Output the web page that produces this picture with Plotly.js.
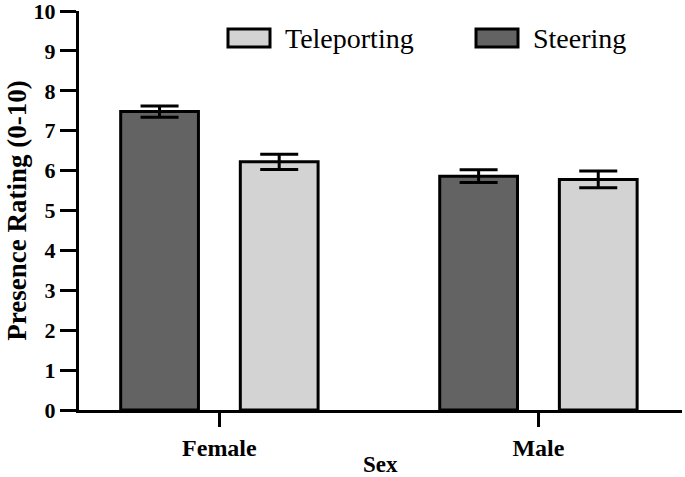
<!DOCTYPE html>
<html>
<head>
<meta charset="utf-8">
<script src="https://cdn.plot.ly/plotly-3.0.1.min.js"></script>
<style>html,body{margin:0;padding:0;background:#fff;}#chart{width:685px;height:477px;}</style>
</head>
<body>
<div id="chart"></div>
<script>
const categories = ["Female", "Male"];
const seriesNames = ["Steering", "Teleporting"];
const steering = [7.48, 5.86];
const steeringErr = [0.14, 0.16];
const teleporting = [6.22, 5.78];
const teleportingErr = [0.19, 0.21];
const yTicks = [0,1,2,3,4,5,6,7,8,9,10];
const yTitle = "Presence Rating (0-10)";
const xTitle = "Sex";

const serif = "Liberation Serif, Times New Roman, serif";
const colors = ["#636363", "#d3d3d3"];

const traces = [
  {type: "bar", name: seriesNames[0], x: categories, y: steering,
   marker: {color: colors[0], line: {color: "#000", width: 3}},
   error_y: {type: "data", array: steeringErr, visible: true, color: "#000", thickness: 3, width: 19},
   showlegend: false},
  {type: "bar", name: seriesNames[1], x: categories, y: teleporting,
   marker: {color: colors[1], line: {color: "#000", width: 3}},
   error_y: {type: "data", array: teleportingErr, visible: true, color: "#000", thickness: 3, width: 19},
   showlegend: false}
];

// custom legend (Teleporting first, then Steering)
const legendOrder = [1, 0];
const legendX = [228, 476];
const shapes = [];
const annotations = [];
const toPaperX = p => (p - 79) / 603;
const toPaperY = p => (410 - p) / 399;
legendOrder.forEach((idx, i) => {
  shapes.push({type: "rect", xref: "paper", yref: "paper",
    x0: toPaperX(legendX[i]), x1: toPaperX(legendX[i] + 42),
    y0: toPaperY(47), y1: toPaperY(29),
    fillcolor: colors[idx], line: {color: "#000", width: 3}});
  annotations.push({xref: "paper", yref: "paper",
    x: toPaperX(legendX[i] + 55), y: toPaperY(38),
    xanchor: "left", yanchor: "middle", showarrow: false,
    text: seriesNames[idx], font: {family: serif, size: 28, color: "#000"}});
});
annotations.push({xref: "paper", yref: "paper", x: 0.5, y: toPaperY(464),
  xanchor: "center", yanchor: "middle", showarrow: false,
  text: "<b>" + xTitle + "</b>", font: {family: serif, size: 23, color: "#000"}});

const layout = {
  width: 685, height: 477,
  margin: {l: 79, r: 3, t: 11, b: 67, pad: 0},
  paper_bgcolor: "#fff", plot_bgcolor: "#fff",
  barmode: "group", bargap: 0.25, bargroupgap: 0.35,
  showlegend: false,
  font: {family: serif, color: "#000"},
  xaxis: {
    range: [-0.44, 1.45], showgrid: false, zeroline: false,
    showline: true, linecolor: "#000", linewidth: 3,
    ticks: "outside", ticklen: 14, tickwidth: 3, tickcolor: "#000",
    tickfont: {family: serif, size: 24, color: "#000", weight: "bold"},
    fixedrange: true
  },
  yaxis: {
    range: [0, 10.0001], tickvals: yTicks, ticktext: yTicks.map(String),
    showgrid: false, zeroline: false,
    showline: true, linecolor: "#000", linewidth: 3,
    ticks: "outside", ticklen: 16, tickwidth: 3, tickcolor: "#000",
    ticklabeloverflow: "allow",
    tickfont: {family: serif, size: 22, color: "#000", weight: "bold"},
    title: {text: "<b>" + yTitle + "</b>", font: {family: serif, size: 27, color: "#000"}, standoff: 0},
    automargin: false,
    fixedrange: true
  },
  shapes: shapes,
  annotations: annotations
};

Plotly.newPlot("chart", traces, layout, {displayModeBar: false, staticPlot: true});
</script>
</body>
</html>
